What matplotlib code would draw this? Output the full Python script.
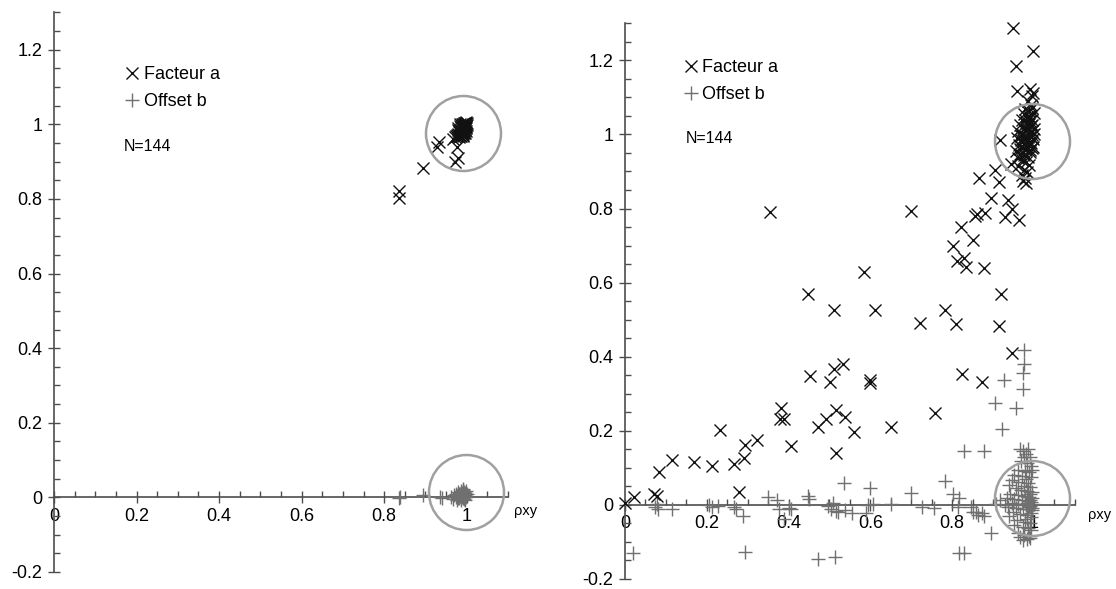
import matplotlib
matplotlib.use('Agg')
import matplotlib.pyplot as plt
from matplotlib.ticker import FixedLocator, MultipleLocator

plt.rcParams['font.family'] = ['Liberation Sans', 'DejaVu Sans']
plt.rcParams['axes.unicode_minus'] = False

# --- data (x = rho_xy) ---
# left panel: Facteur a
left_a_x = [0.835, 0.837, 0.895, 0.934, 0.929, 0.971, 0.979, 0.967, 0.977, 0.972, 0.976,
            0.978, 0.980, 0.981, 0.982, 0.983, 0.984, 0.985, 0.985, 0.986, 0.987, 0.987,
            0.988, 0.988, 0.989, 0.990, 0.990, 0.991, 0.991, 0.992, 0.992, 0.993, 0.993,
            0.994, 0.994, 0.995, 0.995, 0.996, 0.996, 0.997, 0.997, 0.998, 0.998, 0.999,
            0.999, 1.000, 1.000, 0.979, 0.983, 0.986, 0.989, 0.992, 0.995, 0.998, 0.982,
            0.996, 0.990, 0.984, 0.997, 0.975, 0.978, 0.988, 0.993, 0.999]
left_a_y = [0.821, 0.802, 0.882, 0.952, 0.940, 0.900, 0.909, 0.960, 0.938, 0.966, 0.972,
            0.970, 0.975, 0.982, 0.979, 0.970, 0.984, 0.990, 0.976, 0.981, 0.993, 0.986,
            0.978, 0.996, 0.989, 0.983, 0.999, 0.992, 0.976, 0.987, 1.002, 0.995, 0.981,
            0.990, 1.004, 0.998, 0.985, 0.993, 1.003, 1.000, 0.988, 0.996, 1.005, 1.001,
            0.991, 0.999, 1.004, 0.990, 0.995, 0.969, 1.001, 0.972, 1.002, 0.983, 0.966,
            1.004, 0.968, 1.000, 0.978, 0.968, 0.986, 0.974, 0.977, 0.994]
# left panel: Offset b
left_b_x = [0.838, 0.836, 0.895, 0.935, 0.940, 0.962, 0.966, 0.970, 0.973, 0.975, 0.977,
            0.979, 0.980, 0.982, 0.983, 0.985, 0.986, 0.987, 0.988, 0.989, 0.990, 0.991,
            0.992, 0.993, 0.994, 0.995, 0.996, 0.997, 0.998, 0.999, 1.000, 0.984, 0.981,
            0.978, 0.988, 0.993, 0.996, 0.986, 0.990, 0.992]
left_b_y = [0.002, -0.001, 0.007, 0.000, -0.003, 0.002, -0.004, 0.006, 0.000, 0.010, -0.006,
            0.004, 0.014, -0.002, 0.008, 0.018, 0.001, -0.008, 0.011, 0.005, 0.020, -0.003,
            0.009, 0.014, 0.002, -0.006, 0.012, 0.006, 0.016, 0.000, 0.010, 0.004, 0.009,
            -0.002, 0.000, -0.004, 0.003, 0.013, 0.007, 0.022]

# right panel: Facteur a
right_a_x = [0.000, 0.022, 0.070, 0.079, 0.083, 0.114, 0.169, 0.214, 0.233, 0.266, 0.279,
             0.291, 0.293, 0.323, 0.354, 0.380, 0.382, 0.390, 0.406, 0.448, 0.452, 0.472,
             0.492, 0.502, 0.511, 0.511, 0.515, 0.515, 0.533, 0.537, 0.559, 0.585, 0.598,
             0.600, 0.611, 0.651, 0.699, 0.722, 0.757, 0.782, 0.803, 0.810, 0.812, 0.821,
             0.824, 0.830, 0.834, 0.852, 0.856, 0.860, 0.865, 0.873, 0.878, 0.879, 0.895,
             0.904, 0.914, 0.917, 0.914, 0.920, 0.930, 0.937, 0.946, 0.946, 0.943, 0.949,
             0.955, 0.958, 0.963, 0.998,
             0.990, 0.994, 0.998, 0.985, 0.992, 0.978, 0.996, 0.988, 0.975, 0.999, 0.983,
             0.991, 0.970, 0.996, 0.980, 0.987, 0.965, 0.993, 0.975, 0.999, 0.984, 0.960,
             0.990, 0.970, 0.995, 0.978, 0.986, 0.958, 0.998, 0.968, 0.982, 0.992, 0.975,
             0.963, 0.988, 0.997, 0.972, 0.980, 0.955, 0.990, 0.966, 0.976, 0.985, 0.960,
             0.995, 0.970, 0.980, 0.988, 0.962, 0.975, 0.983, 0.970, 0.978, 0.972, 0.980,
             0.985, 0.993, 0.981, 0.989, 0.977, 0.996, 0.968, 0.984, 0.991, 0.973, 0.999,
             0.987, 0.979, 0.994, 0.966]
right_a_y = [0.005, 0.020, 0.030, 0.025, 0.090, 0.120, 0.116, 0.106, 0.203, 0.110, 0.035,
             0.126, 0.161, 0.176, 0.791, 0.231, 0.261, 0.231, 0.158, 0.568, 0.347, 0.211,
             0.231, 0.332, 0.526, 0.367, 0.256, 0.141, 0.380, 0.236, 0.196, 0.628, 0.337,
             0.329, 0.526, 0.211, 0.794, 0.492, 0.248, 0.526, 0.698, 0.489, 0.659, 0.749,
             0.352, 0.667, 0.643, 0.714, 0.781, 0.784, 0.881, 0.332, 0.640, 0.787, 0.829,
             0.905, 0.871, 0.985, 0.482, 0.570, 0.777, 0.824, 0.799, 0.409, 0.920, 1.286,
             1.186, 1.116, 0.769, 1.226,
             1.122, 1.104, 1.112, 1.090, 1.080, 1.068, 1.072, 1.062, 1.055, 1.058, 1.048,
             1.044, 1.040, 1.038, 1.032, 1.028, 1.025, 1.022, 1.018, 1.015, 1.012, 1.008,
             1.005, 1.002, 0.998, 0.995, 0.992, 0.990, 0.988, 0.985, 0.982, 0.978, 0.975,
             0.972, 0.970, 0.966, 0.962, 0.958, 0.955, 0.952, 0.948, 0.944, 0.940, 0.936,
             0.962, 0.930, 0.925, 0.918, 0.915, 0.905, 0.898, 0.890, 0.882, 0.874, 0.868,
             1.000, 0.993, 1.020, 1.036, 1.008, 1.025, 0.995, 0.965, 0.957, 0.985, 1.000,
             1.050, 1.040, 1.010, 0.960]
# right panel: Offset b
right_b_x = [0.020, 0.074, 0.079, 0.081, 0.114, 0.205, 0.212, 0.227, 0.266, 0.272, 0.288,
             0.293, 0.349, 0.371, 0.377, 0.389, 0.400, 0.406, 0.448, 0.451, 0.473, 0.497,
             0.503, 0.508, 0.513, 0.515, 0.520, 0.535, 0.537, 0.556, 0.590, 0.600, 0.594,
             0.607, 0.651, 0.699, 0.725, 0.755, 0.782, 0.803, 0.816, 0.814, 0.817, 0.830,
             0.830, 0.878, 0.846, 0.852, 0.858, 0.864, 0.872, 0.878, 0.895, 0.904, 0.921,
             0.926, 0.906, 0.917, 0.955, 0.972, 0.974, 0.976, 0.976,
             0.965, 0.972, 0.980, 0.986, 0.975, 0.990, 0.968, 0.984, 0.992, 0.960, 0.978,
             0.988, 0.950, 0.970, 0.993, 0.945, 0.962, 0.985, 0.938, 0.975, 0.990, 0.955,
             0.968, 0.982, 0.995, 0.942, 0.960, 0.978, 0.988, 0.933, 0.952, 0.970, 0.985,
             0.993, 0.945, 0.962, 0.980, 0.990, 0.997, 0.936, 0.955, 0.974, 0.986, 0.994,
             0.948, 0.966, 0.983, 0.992, 0.958, 0.978, 0.989, 0.950, 0.972, 0.986, 0.993,
             0.960, 0.976, 0.988, 0.965, 0.982, 0.972, 0.990, 0.985, 0.991, 0.987, 0.995,
             0.983, 0.989, 0.992, 0.984, 0.996, 0.980, 0.994, 0.940, 0.930]
right_b_y = [-0.131, -0.005, 0.003, -0.012, -0.012, 0.000, -0.006, -0.003, -0.006, -0.012, -0.030,
             -0.126, 0.020, 0.014, -0.012, -0.038, -0.008, -0.012, 0.024, 0.016, -0.146, -0.004,
             -0.010, 0.006, -0.141, -0.016, -0.020, 0.060, -0.015, -0.022, -0.022, 0.045, 0.000,
             0.003, 0.002, 0.033, -0.006, -0.008, 0.064, 0.030, 0.018, -0.006, -0.131, -0.131,
             0.145, 0.145, -0.005, -0.018, -0.020, -0.028, -0.022, -0.030, -0.076, 0.276, 0.206,
             0.337, 0.002, 0.012, 0.261, 0.312, 0.357, 0.379, 0.417,
             0.152, 0.145, 0.138, 0.150, 0.128, 0.130, 0.118, 0.112, 0.105, 0.095, 0.092,
             0.088, 0.082, 0.078, 0.075, 0.066, 0.062, 0.060, 0.055, 0.052, 0.048, 0.045,
             0.040, 0.038, 0.035, 0.030, 0.028, 0.025, 0.022, 0.018, 0.015, 0.012, 0.010,
             0.008, 0.005, 0.002, 0.000, -0.002, 0.003, -0.005, -0.008, -0.010, -0.012, -0.015,
             -0.020, -0.025, -0.028, -0.032, -0.040, -0.045, -0.048, -0.055, -0.060, -0.062, -0.068,
             -0.075, -0.080, -0.083, -0.088, -0.092, -0.095, -0.090, 0.020, 0.030, -0.005, 0.018,
             0.005, 0.012, -0.022, -0.038, -0.008, 0.070, 0.095, -0.030, 0.000]

# highlighted zones (grey circles)
left_circ_x = [0.992, 0.999]
left_circ_y = [0.976, 0.014]
right_circ_x = [0.996, 0.996]
right_circ_y = [0.982, 0.019]

x_ticks = [0, 0.2, 0.4, 0.6, 0.8, 1.0]
x_labels = ['0', '0.2', '0.4', '0.6', '0.8', '1']
y_ticks = [-0.2, 0, 0.2, 0.4, 0.6, 0.8, 1.0, 1.2]
y_labels = ['-0.2', '0', '0.2', '0.4', '0.6', '0.8', '1', '1.2']
n_label = 'N=144'

AXIS_COL = '#4d4d4d'
B_COL = '#707070'


def draw_panel(ax, a_x, a_y, b_x, b_y, circ_x, circ_y, leg_anchor, n_pos, rho_pos):
    # 1. data
    ha, = ax.plot(a_x, a_y, ls='none', marker='x', ms=9, mew=1.0, color='#111111',
                  clip_on=False, zorder=4, label='Facteur a')
    hb, = ax.plot(b_x, b_y, ls='none', marker='+', ms=10, mew=1.0, color=B_COL,
                  clip_on=False, zorder=3, label='Offset b')
    ax.plot(circ_x, circ_y, ls='none', marker='o', ms=54, mfc='none', mec='#a0a0a0',
            mew=1.8, clip_on=False, zorder=5)

    # 2. axes crossing at the origin
    ax.set_xlim(0, 1.1)
    ax.set_ylim(-0.2, 1.3)
    ax.spines['left'].set_position(('data', 0))
    ax.spines['bottom'].set_position(('data', 0))
    for s in ['top', 'right']:
        ax.spines[s].set_visible(False)
    for s in ['left', 'bottom']:
        ax.spines[s].set_color(AXIS_COL)
        ax.spines[s].set_linewidth(1.2)

    ax.xaxis.set_major_locator(FixedLocator(x_ticks))
    ax.set_xticklabels(x_labels)
    ax.yaxis.set_major_locator(FixedLocator(y_ticks))
    ax.set_yticklabels(y_labels)
    ax.xaxis.set_minor_locator(MultipleLocator(0.05))
    ax.yaxis.set_minor_locator(MultipleLocator(0.05))
    ax.tick_params(which='major', direction='inout', length=9, width=1.0, color=AXIS_COL,
                   labelsize=13, labelcolor='black')
    ax.tick_params(axis='x', which='major', pad=3)
    ax.tick_params(axis='y', which='major', pad=4)
    ax.tick_params(which='minor', direction='in', length=4.5, width=1.0, color=AXIS_COL)

    # 3. legend + annotations
    ax.legend(handles=[ha, hb], loc='center left', bbox_to_anchor=leg_anchor, frameon=False,
              fontsize=13, handlelength=0.8, handletextpad=0.25, borderpad=0,
              borderaxespad=0, labelspacing=0.55)
    ax.text(n_pos[0], n_pos[1], n_label, fontsize=11.5, va='center', ha='left')
    ax.text(rho_pos[0], rho_pos[1], 'ρxy', fontsize=10.5, va='center', ha='left')


fig = plt.figure(figsize=(11.16, 5.89), dpi=100)
ax_l = fig.add_axes([0.0484, 0.0289, 0.4068, 0.9500])
ax_r = fig.add_axes([0.5600, 0.0170, 0.4032, 0.9435])

draw_panel(ax_l, left_a_x, left_a_y, left_b_x, left_b_y, left_circ_x, left_circ_y,
           leg_anchor=(0.156, 0.865), n_pos=(0.169, 0.94), rho_pos=(1.115, -0.037))
draw_panel(ax_r, right_a_x, right_a_y, right_b_x, right_b_y, right_circ_x, right_circ_y,
           leg_anchor=(0.13, 0.896), n_pos=(0.148, 0.99), rho_pos=(1.132, -0.027))

fig.savefig('out.png', dpi=100)
